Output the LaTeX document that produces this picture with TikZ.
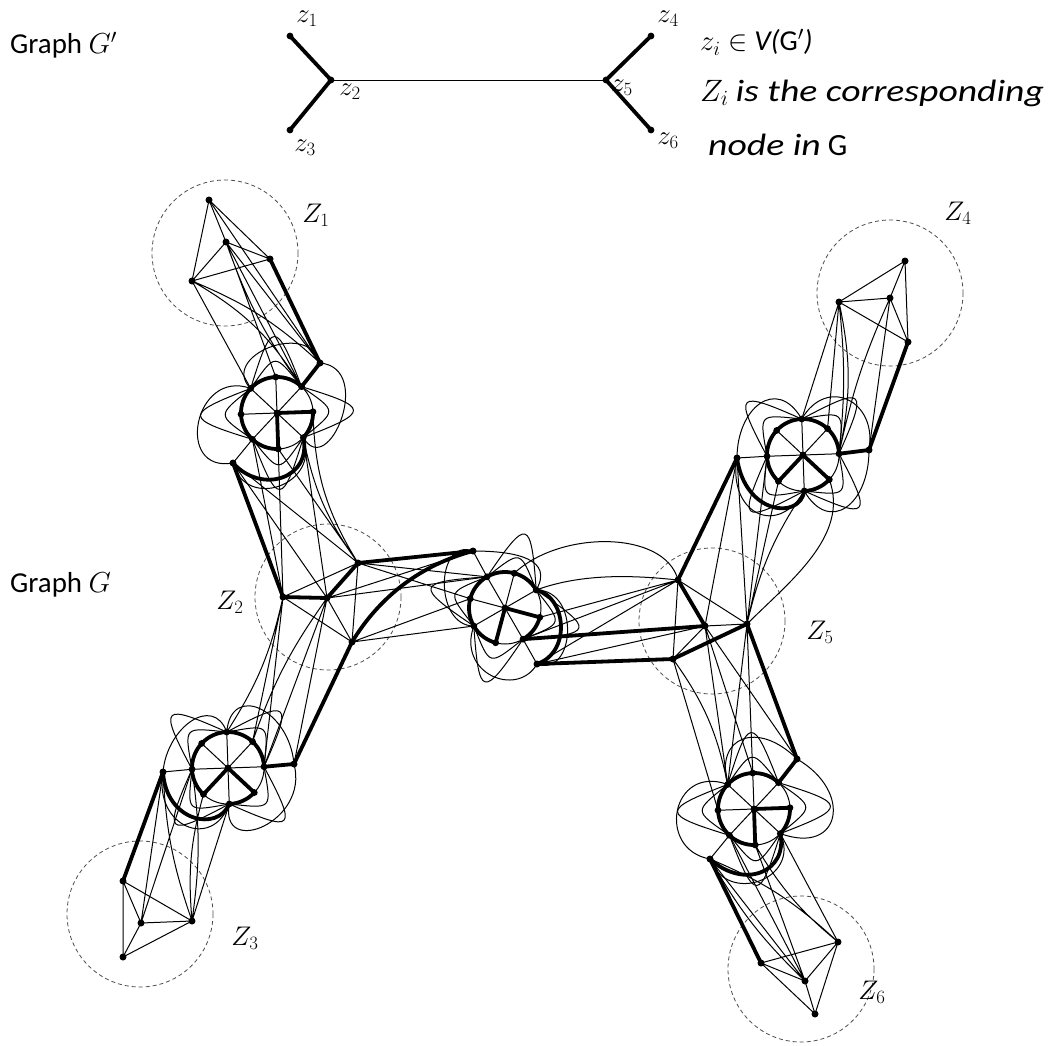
\RequirePackage{fix-cm}
\documentclass[tikz,border=0pt]{standalone}
\usepackage{graphicx}
\usepackage{fontspec}
\setmainfont{Carlito}
\usetikzlibrary{calc}
\newcommand\gadget[3]{%
  \coordinate (#1c) at #2;
  \foreach \k in {0,...,7}{\coordinate (#1\k) at ($(#1c)+({#3+45*\k}:36)$);}
  \draw[ln] (#1c) circle[radius=36];
  \foreach \k in {0,...,7}{\draw[ln] (#1c) -- (#1\k);}
  \foreach \k in {1,3,5,7}{%
    \pgfmathtruncatemacro\kk{mod(\k+2,8)}%
    \draw[ln] (#1\k) .. controls +({#3+45*\k+82}:44) and +({#3+45*\k+8}:44) .. (#1\kk);
    \draw[ln] (#1\k) .. controls +({#3+45*\k+64}:72) and +({#3+45*\k+26}:72) .. (#1\kk);}
  \draw[tk] (#17) arc[start angle={#3+315}, delta angle=-225, radius=36] -- (#1c) -- (#10) arc[start angle={#3}, delta angle=45, radius=36];
}
\newcommand\gdots[1]{\foreach \k in {0,...,7}{\fill (#1\k) circle[radius=3.4];}\fill (#1c) circle[radius=3.4];}
\newcommand\wit[1]{\scalebox{1.22}[1]{\textit{#1}}}
\begin{document}
\begin{tikzpicture}[x=1bp,y=-1bp,
  ln/.style={line width=1.0bp},
  tk/.style={line width=3.8bp,line cap=round,line join=round},
  zone/.style={line width=0.8bp,dash pattern=on 4bp off 3bp,black!70},
  txt/.style={font=\fontsize{29}{34}\selectfont,inner sep=0pt,anchor=west},
  txtb/.style={font=\fontsize{31}{36}\selectfont,inner sep=0pt,anchor=west},
  zl/.style={font=\fontsize{27}{30}\selectfont,inner sep=0pt},
]
\useasboundingbox (0,0) rectangle (1057,1046);
% ---------- Graph G' ----------
\coordinate (z1) at (290,36); \coordinate (z2) at (331,80); \coordinate (z3) at (290,130);
\coordinate (z4) at (651,36); \coordinate (z5) at (606,80); \coordinate (z6) at (651,130);
\draw[ln] (z2) -- (z5);
\draw[tk] (z1) -- (z2) -- (z3) (z4) -- (z5) -- (z6);
\foreach \p in {z1,z2,z3,z4,z5,z6}{\fill (\p) circle[radius=3.4];}
\node[zl] (lz1) at (307,19) {$z_1$};
\node[zl] (lz2) at (350,92) {$z_2$};
\node[zl] (lz3) at (305,148) {$z_3$};
\node[zl] (lz4) at (668,19) {$z_4$};
\node[zl] (lz5) at (622,88) {$z_5$};
\node[zl] (lz6) at (668,141) {$z_6$};
\node[txt] (tg1) at (10,45) {Graph $G'$};
\node[txt] (t1) at (700,42) {$z_i\in$ \textit{V(}$\mathrm{G}'$\textit{)}};
\node[txtb] (t2) at (700,93) {$Z_i$ \wit{is the corresponding}};
\node[txtb] (t3) at (708,145) {\wit{node in} $\mathrm{G}$};
\node[txt] (tg2) at (10,585) {Graph $G$};
% ---------- cluster nodes ----------
\coordinate (a1) at (209,200); \coordinate (a2) at (226,242); \coordinate (a3) at (270,259); \coordinate (a4) at (192,281);
\coordinate (b1) at (283,597); \coordinate (b2) at (327,598); \coordinate (b3) at (358,563); \coordinate (b4) at (352,642);
\coordinate (f1) at (123,881); \coordinate (f2) at (141,923); \coordinate (f3) at (192,921); \coordinate (f4) at (123,957);
\coordinate (e1) at (905,261); \coordinate (e2) at (839,302); \coordinate (e3) at (890,298); \coordinate (e4) at (908,342);
\coordinate (d1) at (678,580); \coordinate (d2) at (705,626); \coordinate (d3) at (747,624); \coordinate (d4) at (673,659);
\coordinate (g1) at (838,942); \coordinate (g2) at (761,963); \coordinate (g3) at (805,981); \coordinate (g4) at (815,1014);
\coordinate (o1a) at (320,363); \coordinate (o1b) at (233,463);
\coordinate (oc) at (473,551); \coordinate (oc2) at (537,664);
\coordinate (o3a) at (294,764); \coordinate (o3b) at (163,772);
\coordinate (o4a) at (869,450); \coordinate (o4b) at (737,458);
\coordinate (o6a) at (797,759); \coordinate (o6b) at (710,859);
% ---------- zones ----------
\draw[zone] (225,253) circle[radius=73];
\draw[zone] (328,597) circle[radius=73];
\draw[zone] (140,914) circle[radius=73];
\draw[zone] (890,293) circle[radius=73];
\draw[zone] (712,621) circle[radius=73];
\draw[zone] (801,969) circle[radius=73];
\node[zl] (lZ1) at (316,215) {$Z_1$};
\node[zl] (lZ2) at (230,602) {$Z_2$};
\node[zl] (lZ3) at (245,938) {$Z_3$};
\node[zl] (lZ4) at (958,213) {$Z_4$};
\node[zl] (lZ5) at (820,632) {$Z_5$};
\node[zl] (lZ6) at (872,992) {$Z_6$};
% ---------- gadgets ----------
\gadget{P}{(277,413)}{-2}
\gadget{Q}{(505,608)}{15}
\gadget{R}{(228,768)}{43}
\gadget{S}{(803,455)}{43}
\gadget{T}{(754,809)}{-2}
% ---------- cluster edges ----------
\draw[ln] (a1)--(a2) (a1)--(a3) (a1)--(a4) (a2)--(a3) (a2)--(a4) (a4)--(a3);
\draw[ln] (b1)--(b3) (b1)--(b4) (b2)--(b4) (b3)--(b4);
\draw[ln] (f1)--(f2) (f1)--(f3) (f1)--(f4) (f2)--(f3) (f2)--(f4) (f3)--(f4);
\draw[ln] (e1)--(e2) (e1)--(e3) (e1)--(e4) (e2)--(e3) (e2)--(e4) (e3)--(e4);
\draw[ln] (d2)--(d3) (d1)--(d3) (d1)--(d4) (d2)--(d4);
\draw[ln] (g1)--(g2) (g1)--(g3) (g1)--(g4) (g2)--(g3) (g2)--(g4) (g3)--(g4);
% ---------- thin connections ----------
% Z1 - P
\draw[ln] (a4)--(P5) (a2)--(P6) (a1)--(o1a) (a2)--(o1a) (a4) to[bend left=10] (o1a)
  (a4) to[bend left=14] (P7) (a2) to[bend right=8] (P7) (a2)--(P7);
% P - Z2
\draw[ln] (o1b)--(b2) (o1b)--(b3) (o1b)--(P3) (P3)--(b1) (P2)--(b1) (P2)--(b3) (P1)--(b2)
  (P1) to[bend right=12] (b3) (P0) to[bend right=15] (b3);
% Z2 - Q
\draw[ln] (b2)--(oc) (b2)--(Q5) (b3)--(Q5) (b3)--(Q4) (b4)--(Q3) (b4)--(Q4) (oc)--(Q5);
% Q - Z5
\draw[ln] (Q7) .. controls (585,572) and (640,576) .. (d1);
\draw[ln] (Q6) .. controls (560,530) and (665,530) .. (d1);
\draw[ln] (Q0)--(d1) (Q1)--(d1) (oc2)--(d2) (oc2)--(d1) (oc2)--(Q1);
% S - Z5
\draw[ln] (o4b)--(d2) (o4b)--(d3) (S3)--(d3) (S2)--(d3) (S1) to[bend right=10] (d3)
  (S0) .. controls +(70:60) and +(-45:60) .. (d3) (o4b)--(S3);
% Z5 - T
\draw[ln] (d4)--(T4) (d2)--(T5) (d2)--(T6) (d3)--(T5) (d3)--(T6) (d4) to[bend left=12] (T5) (d2)--(o6a);
% T - Z6
\draw[ln] (o6b)--(g3) (o6b) to[bend right=8] (g3) (o6b) to[bend left=10] (g1) (T3)--(g3) (T2)--(g3)
  (T1)--(g1) (T2) to[bend right=10] (g1) (o6b)--(T3);
% S - Z4
\draw[ln] (e2)--(S5) (e2) to[bend left=6] (S7) (e2) to[bend left=12] (S7) (e3) to[bend right=6] (S7)
  (e3)--(o4a) (e2)--(S6);
% R - Z3
\draw[ln] (o3b)--(f2) (o3b) to[bend right=8] (f3) (R3)--(f2) (R3) to[bend left=8] (f3)
  (R2) to[bend right=10] (f3) (R1)--(f3) (o3b)--(R3);
% Z2 - R
\draw[ln] (b1) to[bend left=10] (R5) (b1)--(R7) (b2)--(R7) (b2)--(o3a) (b1)--(R6) (b2) to[bend right=8] (R6);
% loops at outer nodes
\draw[ln] (o1a) .. controls +(5:55) and +(60:50) .. (P1);
\draw[ln] (o1a) .. controls +(255:45) and +(225:45) .. (P5);
\draw[ln] (o1b) .. controls +(170:60) and +(200:60) .. (P5);
\draw[ln] (o1b) .. controls +(75:50) and +(70:50) .. (P1);
\draw[ln] (oc) .. controls +(0:45) and +(300:35) .. (Q7);
\draw[ln] (oc) .. controls +(200:40) and +(180:40) .. (Q3);
\draw[ln] (oc2) .. controls +(120:40) and +(110:50) .. (Q3);
\draw[ln] (oc2) .. controls +(20:40) and +(0:45) .. (Q7);
\draw[ln] (o4b) .. controls +(270:50) and +(240:50) .. (S5);
\draw[ln] (S5) .. controls +(300:50) and +(280:50) .. (o4a);
\draw[ln] (o4b) .. controls +(100:55) and +(120:55) .. (S1);
\draw[ln] (S1) .. controls +(60:50) and +(90:55) .. (o4a);
\draw[ln] (o3a) .. controls +(265:55) and +(275:50) .. (R5);
\draw[ln] (o3b) .. controls +(275:45) and +(250:40) .. (R5);
\draw[ln] (o3a) .. controls +(75:60) and +(100:55) .. (R1);
\draw[ln] (o3b) .. controls +(100:55) and +(110:50) .. (R1);
\draw[ln] (o6a) .. controls +(30:65) and +(20:65) .. (T1);
\draw[ln] (o6a) .. controls +(225:55) and +(255:50) .. (T5);
\draw[ln] (o6b) .. controls +(190:55) and +(200:60) .. (T5);
\draw[ln] (o6b) .. controls +(70:50) and +(65:50) .. (T1);
% ---------- thick path ----------
\draw[tk] (a3) -- (o1a) -- (P7);
\draw[tk] (P1) .. controls (312,478) and (262,495) .. (o1b) -- (b1) -- (b2) -- (b3) -- (oc)
  .. controls (421,565) and (380,596) .. (b4) -- (o3a) -- (R7);
\draw[tk] (R1) .. controls (218,832) and (166,822) .. (o3b) -- (f1);
\draw[tk] (Q7) .. controls (566,596) and (572,652) .. (oc2) -- (d4) -- (d3) -- (o6a) -- (T7);
\draw[tk] (T1) .. controls (788,872) and (744,890) .. (o6b) -- (g2);
\draw[tk] (Q1) -- (d2) -- (d1) -- (o4b) .. controls (745,515) and (800,520) .. (S1);
\draw[tk] (S7) -- (o4a) -- (e4);
% ---------- dots ----------
\gdots{P}\gdots{Q}\gdots{R}\gdots{S}\gdots{T}
\foreach \p in {a1,a2,a3,a4,b1,b2,b3,b4,d1,d2,d3,d4,e1,e2,e3,e4,f1,f2,f3,f4,g1,g2,g3,g4,o1a,o1b,oc,oc2,o3a,o3b,o4a,o4b,o6a,o6b}{\fill (\p) circle[radius=3.5];}
\end{tikzpicture}
\end{document}
